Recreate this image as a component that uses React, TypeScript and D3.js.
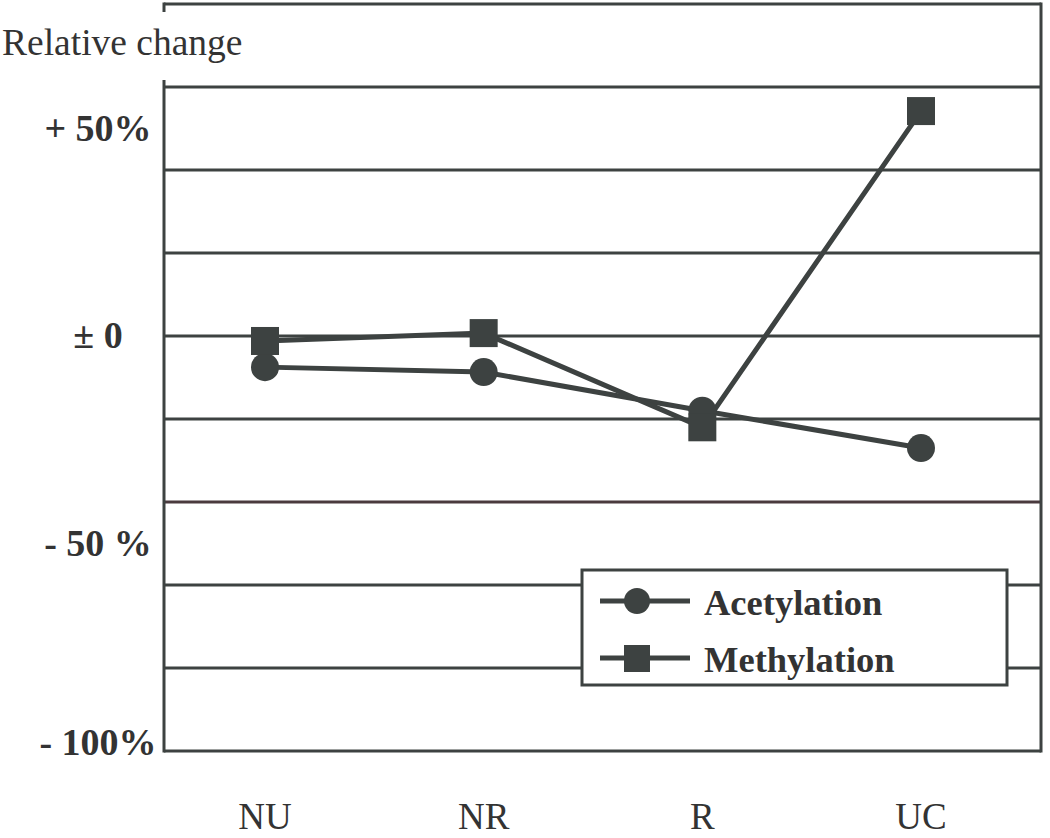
import React from "react";
import * as d3 from "d3";

const categories = ["NU", "NR", "R", "UC"];
const acetylation = [-7.5, -8.7, -18, -27];
const methylation = [-1.2, 0.7, -22, 54.2];
const gridValues = [80, 60, 40, 20, 0, -20, -40, -60, -80, -100];
const tickValues = [50, 0, -50, -100];
const tickLabels = ["+ 50%", "± 0", "- 50 %", "- 100%"];
const legendLabels = ["Acetylation", "Methylation"];

const W = 1050;
const H = 838;
const left = 164;
const right = 1041;
const ink = "#3d4241";
const textInk = "#333";
const serif = "'Liberation Serif', 'Times New Roman', serif";

export default function App() {
  const y = d3.scaleLinear().domain([-100, 80]).range([751, 4]);
  const x = d3.scalePoint<string>().domain(categories).range([265, 921]);
  const line = d3
    .line<number>()
    .x((_, i) => x(categories[i]) as number)
    .y((d) => y(d));

  const sq = 28;
  const r = 14;

  return (
    <svg
      width={W}
      height={H}
      style={{ position: "absolute", left: 0, top: 0, background: "#fff" }}
    >
      <rect x={0} y={0} width={W} height={H} fill="#fff" />
      {gridValues.map((v) => (
        <line
          key={v}
          x1={left}
          x2={right}
          y1={y(v)}
          y2={y(v)}
          stroke={v === -40 ? "#4a3a3e" : ink}
          strokeWidth={3}
        />
      ))}
      <line x1={left} x2={left} y1={80} y2={y(-100) + 1.5} stroke={ink} strokeWidth={3} />
      <line x1={left} x2={left} y1={y(80) - 1.5} y2={12} stroke={ink} strokeWidth={3} />
      <line x1={right} x2={right} y1={y(80) - 1.5} y2={y(-100) + 1.5} stroke={ink} strokeWidth={3} />

      <text x={2} y={55} fontFamily={serif} fontSize={37.5} fill={textInk}>
        Relative change
      </text>

      {tickValues.map((v, i) => (
        <text
          key={v}
          x={98}
          y={y(v) + (v === -100 ? 4 : 12)}
          textAnchor="middle"
          fontFamily={serif}
          fontWeight="bold"
          fontSize={38}
          fill={textInk}
        >
          {tickLabels[i]}
        </text>
      ))}

      {categories.map((c) => (
        <text
          key={c}
          x={x(c)}
          y={829}
          textAnchor="middle"
          fontFamily={serif}
          fontSize={37}
          fill={textInk}
        >
          {c}
        </text>
      ))}

      <path d={line(acetylation) || ""} fill="none" stroke={ink} strokeWidth={5} />
      <path d={line(methylation) || ""} fill="none" stroke={ink} strokeWidth={5} />

      {acetylation.map((v, i) => (
        <circle key={"a" + i} cx={x(categories[i])} cy={y(v)} r={r} fill={ink} />
      ))}
      {methylation.map((v, i) => (
        <rect
          key={"m" + i}
          x={(x(categories[i]) as number) - sq / 2}
          y={y(v) - sq / 2}
          width={sq}
          height={sq}
          fill={ink}
        />
      ))}

      <rect x={582} y={570} width={425} height={115} fill="#fff" stroke={ink} strokeWidth={3} />
      {legendLabels.map((lab, i) => {
        const cy = 601 + i * 57;
        return (
          <g key={lab}>
            <line x1={600} x2={690} y1={cy} y2={cy} stroke={ink} strokeWidth={5} />
            {i === 0 ? (
              <circle cx={637} cy={cy} r={13} fill={ink} />
            ) : (
              <rect x={624} y={cy - 13} width={26} height={27} fill={ink} />
            )}
            <text
              x={704}
              y={cy + 14}
              fontFamily={serif}
              fontWeight="bold"
              fontSize={36.5}
              fill={textInk}
            >
              {lab}
            </text>
          </g>
        );
      })}
    </svg>
  );
}
